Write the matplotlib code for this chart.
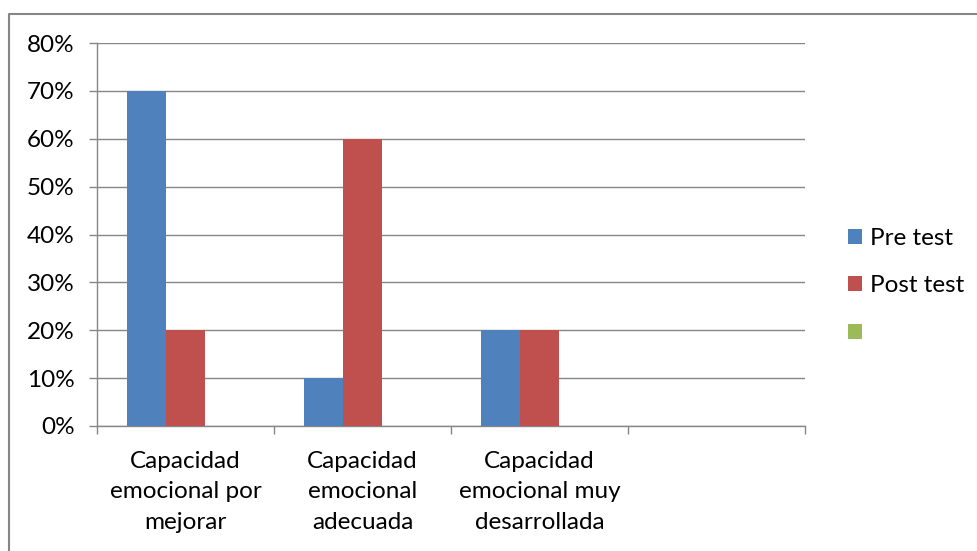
import numpy as np
import matplotlib.pyplot as plt
from matplotlib.lines import Line2D
from matplotlib.patches import Patch
from matplotlib.ticker import FuncFormatter

categorias = ["Capacidad\nemocional por\nmejorar",
              "Capacidad\nemocional\nadecuada",
              "Capacidad\nemocional muy\ndesarrollada",
              ""]
pre_test = [0.70, 0.10, 0.20, np.nan]
post_test = [0.20, 0.60, 0.20, np.nan]
serie3 = [np.nan, np.nan, np.nan, np.nan]
series = ["Pre test", "Post test", ""]
colores = ["#4F81BD", "#C0504D", "#9BBB59"]

plt.rcParams['font.family'] = ['Lato', 'DejaVu Sans']
plt.rcParams['font.size'] = 17.5
gris = "#868686"

W, H = 977, 551
fig = plt.figure(figsize=(W / 100, H / 100), dpi=100)
ax = fig.add_axes([97 / W, 1 - 426 / H, (805 - 97) / W, (426 - 43) / H])

x = np.arange(len(categorias))
ancho = 0.22
for i, (vals, c) in enumerate(zip([pre_test, post_test, serie3], colores)):
    ax.bar(x + (i - 1) * ancho, vals, width=ancho, color=c, zorder=3)

ax.set_xlim(-0.5, len(categorias) - 0.5)
ax.set_ylim(0, 0.8)
ax.set_yticks(np.arange(0, 0.81, 0.1))
ax.yaxis.set_major_formatter(FuncFormatter(lambda v, p: f"{v * 100:.0f}%"))
ax.grid(axis='y', color=gris, linewidth=1.0, zorder=0)

ax.set_xticks(x)
ax.set_xticklabels(categorias, linespacing=1.55)
ax.set_xticks(np.arange(-0.5, len(categorias)), minor=True)
ax.tick_params(axis='x', which='major', length=0, pad=18)
ax.tick_params(axis='x', which='minor', length=6, color=gris, width=1.0)
ax.tick_params(axis='y', length=6, color=gris, width=1.0, pad=10)

for s in ['top', 'right']:
    ax.spines[s].set_visible(False)
for s in ['left', 'bottom']:
    ax.spines[s].set_color(gris)
    ax.spines[s].set_linewidth(1.0)

handles = [Patch(facecolor=c) for c in colores]
fig.legend(handles, series, loc='center left', bbox_to_anchor=(826 / W, 1 - 286 / H),
           frameon=False, handlelength=0.58, handleheight=0.58, handletextpad=0.33,
           labelspacing=1.1)

# borde del area del grafico
fig.add_artist(Line2D([8.5 / W, 8.5 / W, 1], [0, 1 - 13.5 / H, 1 - 13.5 / H],
                      color=gris, linewidth=1.5, transform=fig.transFigure))

fig.savefig("out.png", dpi=100)
